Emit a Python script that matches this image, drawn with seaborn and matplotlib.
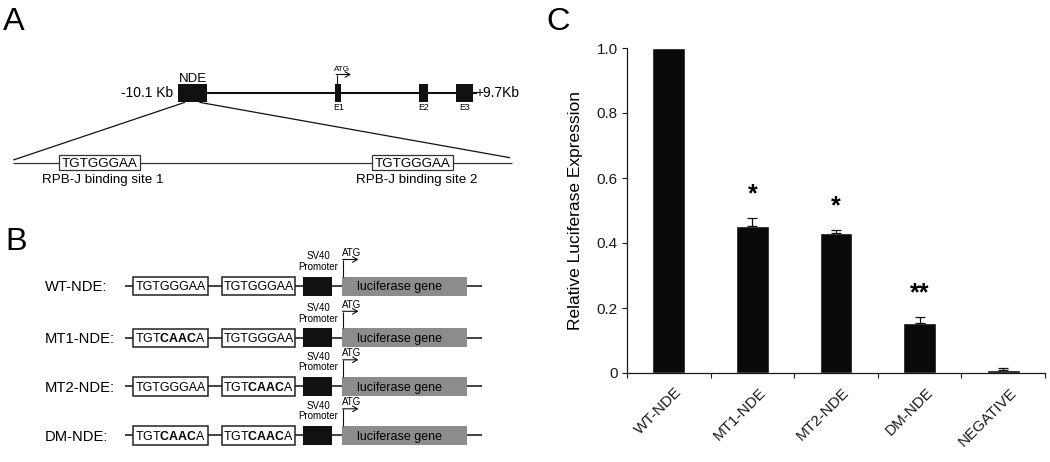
import numpy as np
import pandas as pd
import matplotlib
matplotlib.use("Agg")
import matplotlib.pyplot as plt
import matplotlib.transforms as mtransforms
from matplotlib.patches import Rectangle
import seaborn as sns

# ---------------- data ----------------
categories = ["WT-NDE", "MT1-NDE", "MT2-NDE", "DM-NDE", "NEGATIVE"]
expression = [1.000, 0.452, 0.430, 0.154, 0.010]
expression_err = [0.000, 0.026, 0.010, 0.019, 0.005]
significance = ["", "*", "*", "**", ""]
y_tick_values = [0.0, 0.2, 0.4, 0.6, 0.8, 1.0]
y_tick_labels = ["0", "0.2", "0.4", "0.6", "0.8", "1.0"]
y_label = "Relative Luciferase Expression"

construct_names = ["WT-NDE:", "MT1-NDE:", "MT2-NDE:", "DM-NDE:"]
WT_SITE = "TGTGGGAA"
MUT_SITE = r"TGT$\mathbf{CAAC}$A"
site1_seqs = [WT_SITE, MUT_SITE, WT_SITE, MUT_SITE]
site2_seqs = [WT_SITE, WT_SITE, MUT_SITE, MUT_SITE]
exon_names = ["E1", "E2", "E3"]
site_labels = ["RPB-J binding site 1", "RPB-J binding site 2"]
locus_left, locus_right = "-10.1 Kb", "+9.7Kb"
panel_letters = ["A", "B", "C"]

# ---------------- style ----------------
sns.set_style("ticks", rc={"axes.edgecolor": "#1a1a1a", "text.color": "black",
                           "axes.labelcolor": "black", "xtick.color": "#1a1a1a",
                           "ytick.color": "#1a1a1a"})
plt.rcParams["font.family"] = ["Liberation Sans", "DejaVu Sans"]
plt.rcParams["mathtext.fontset"] = "custom"
plt.rcParams["mathtext.rm"] = "Liberation Sans"
plt.rcParams["mathtext.bf"] = "Liberation Sans:bold"
plt.rcParams["mathtext.it"] = "Liberation Sans:italic"

W, H = 1050, 462
fig = plt.figure(figsize=(10.5, 4.62), dpi=100)
canvas = fig.add_axes([0, 0, 1, 1])
canvas.set_xlim(0, W)
canvas.set_ylim(H, 0)
canvas.axis("off")

PX_PER_PT = 100 / 72.0
DARK = "#111111"


def cap_text(x, yc, s, size, ha="center", **kw):
    base = yc + 0.5 * 0.716 * size * PX_PER_PT
    canvas.text(x, base, s, fontsize=size, ha=ha, va="baseline", **kw)


def rect(x0, x1, y0, y1, fc="white", ec="none", lw=0.9, z=3):
    canvas.add_patch(Rectangle((x0, y0), x1 - x0, y1 - y0, facecolor=fc,
                               edgecolor=ec, linewidth=lw, zorder=z))


def seg(xs, ys, lw=1.0, color=DARK, z=2):
    canvas.plot(xs, ys, color=color, lw=lw, solid_capstyle="butt", zorder=z)


def atg_arrow(x, y_bottom, y_top, x_end, lw=0.8):
    seg([x, x], [y_bottom, y_top + 0.4], lw=lw, z=4)
    canvas.annotate("", xy=(x_end, y_top), xytext=(x - 0.4, y_top),
                    arrowprops=dict(arrowstyle="->,head_length=0.35,head_width=0.2",
                                    lw=lw, color=DARK, shrinkA=0, shrinkB=0),
                    zorder=4)


# ---------------- panel A ----------------
canvas.text(3, 30, panel_letters[0], fontsize=23.4, ha="left", va="baseline")
seg([206, 477], [93, 93], lw=1.5)
rect(178.3, 206.7, 84, 101.7, fc=DARK)
exon_x = [(335, 340.7), (419, 427.7), (456, 472.7)]
for (x0, x1), name in zip(exon_x, exon_names):
    rect(x0, x1, 84, 101.7, fc=DARK)
    cap_text((x0 + x1) / 2 + 0.5, 106.5, name, 6.3)
cap_text(192.5, 77.5, "NDE", 9.5)
cap_text(173.3, 92.5, locus_left, 10, ha="right")
cap_text(475.5, 92.5, locus_right, 10, ha="left")
atg_arrow(336.5, 84, 74.5, 351)
cap_text(342.5, 68.0, "ATG", 5.9)
seg([185, 13.3], [102.3, 160], lw=0.9)
seg([199.3, 510], [102.3, 157.7], lw=0.9)
seg([13, 511.7], [162.5, 162.5], lw=0.9, color="#333333")
for (x0, x1), lab_x, lab in zip([(59.3, 140), (371.7, 453.3)], [102.5, 416.7], site_labels):
    rect(x0, x1, 155.3, 169.7, fc="white", ec="#333333", lw=0.9)
    cap_text((x0 + x1) / 2, 162.5, WT_SITE, 9.6)
    cap_text(lab_x, 178.6, lab, 9.6)

# ---------------- panel B ----------------
canvas.text(5, 250, panel_letters[1], fontsize=23.4, ha="left", va="baseline")
row_ys = [286, 337.8, 386.3, 435.3]
for y, name, s1, s2 in zip(row_ys, construct_names, site1_seqs, site2_seqs):
    seg([125, 481.7], [y, y], lw=1.2, color="#222222")
    cap_text(45, y, name, 10.6, ha="left")
    rect(133.3, 208.3, y - 9.3, y + 9.3, fc="white", ec="#222222", lw=1.1)
    rect(221.7, 295, y - 9.3, y + 9.3, fc="white", ec="#222222", lw=1.1)
    cap_text((133.3 + 208.3) / 2, y, s1, 8.9)
    cap_text((221.7 + 295) / 2, y, s2, 8.9)
    rect(303.3, 331.7, y - 9.5, y + 9.5, fc=DARK)
    rect(342.3, 466.7, y - 9.5, y + 9.5, fc="#8c8c8c")
    cap_text(399.5, y, "luciferase gene", 9.0)
    cap_text(318, y - 30, "SV40", 7.0)
    cap_text(318, y - 19.7, "Promoter", 7.0)
    atg_arrow(343, y - 9.5, y - 26.5, 358.5)
    cap_text(352, y - 33.3, "ATG", 7.0)

# ---------------- panel C ----------------
canvas.text(546.5, 30, panel_letters[2], fontsize=23.4, ha="left", va="baseline")
axC = fig.add_axes([627 / W, (H - 373) / H, 418 / W, 325 / H])
df = pd.DataFrame({"construct": categories, "expression": expression,
                   "err": expression_err, "sig": significance})
sns.barplot(data=df, x="construct", y="expression", color="#0a0a0a",
            saturation=1, width=0.39, errorbar=None, ax=axC, zorder=2)
xpos = np.arange(len(categories))
err = np.array(expression_err)
mask = err > 0
axC.errorbar(xpos[mask], np.array(expression)[mask],
             yerr=[np.zeros(mask.sum()), err[mask]], fmt="none",
             ecolor=DARK, elinewidth=0.9, capsize=3.6, capthick=0.9, zorder=3)
for i, row in df.iterrows():
    if row["sig"]:
        axC.text(i, row["expression"] + row["err"] + 0.05, row["sig"],
                 ha="center", va="baseline", fontsize=18, fontweight="bold")

axC.set_xlim(-0.5, len(categories) - 0.5)
axC.set_ylim(0, 1.0)
axC.set_yticks(y_tick_values)
axC.set_yticklabels(y_tick_labels, fontsize=11)
axC.set_xticks(xpos)
axC.set_xticklabels(categories, fontsize=11, rotation=45, ha="right",
                    va="baseline", rotation_mode="anchor")
axC.set_xticks(np.arange(-0.5, len(categories), 1.0), minor=True)
axC.tick_params(axis="x", which="major", length=0, pad=0)
axC.tick_params(axis="x", which="minor", length=5 / PX_PER_PT, width=0.8, direction="out")
axC.tick_params(axis="y", which="major", length=5 / PX_PER_PT, width=0.8, pad=2.9,
                direction="out")
offset = mtransforms.ScaledTranslation(14 / 100, -20 / 100, fig.dpi_scale_trans)
for lab in axC.get_xticklabels():
    lab.set_transform(lab.get_transform() + offset)
axC.set_xlabel("")
axC.set_ylabel(y_label, fontsize=12.5)
axC.yaxis.set_label_coords(-0.105, 0.5)
for sp in ["left", "bottom"]:
    axC.spines[sp].set_linewidth(0.9)
sns.despine(ax=axC)

fig.savefig("out.png", dpi=100)
